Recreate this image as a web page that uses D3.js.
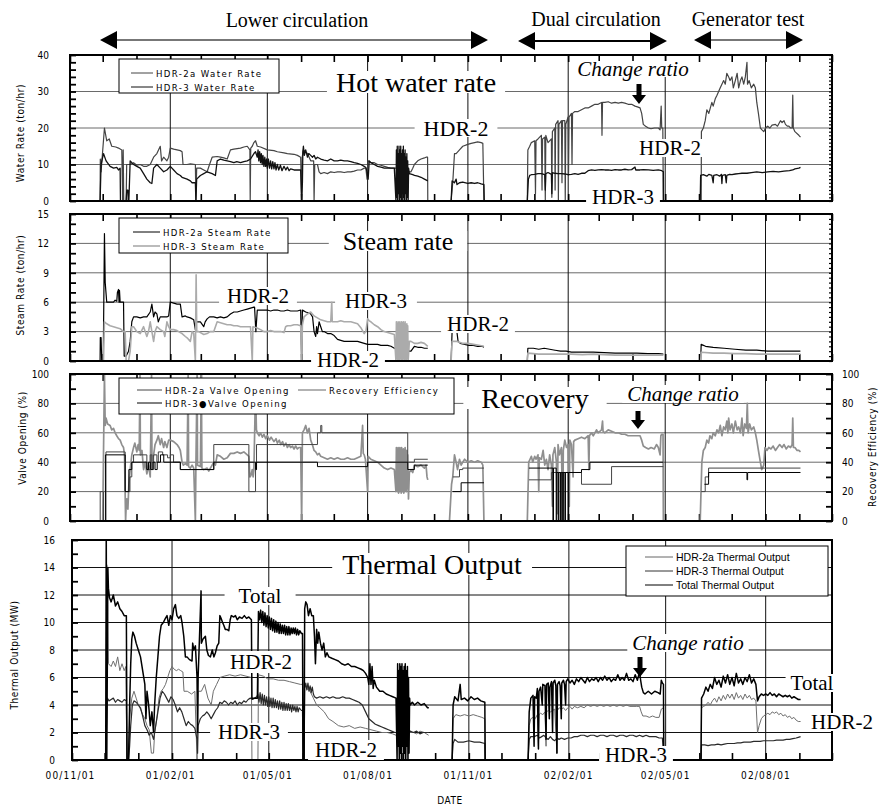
<!DOCTYPE html>
<html>
<head>
<meta charset="utf-8">
<script src="https://cdn.jsdelivr.net/npm/d3@7"></script>
<style>
  body { margin: 0; background: #fff; }
  .tick-label { font-family: "DejaVu Sans Condensed", "DejaVu Sans", sans-serif; font-stretch: condensed; font-size: 10px; fill: #000; }
  .axis-title { font-family: "DejaVu Sans Condensed", "DejaVu Sans", sans-serif; font-stretch: condensed; font-size: 10px; letter-spacing: 0.6px; fill: #000; }
  .legend-spaced { font-family: "DejaVu Sans Condensed", "DejaVu Sans", sans-serif; font-stretch: condensed; font-size: 9.5px; letter-spacing: 1.4px; fill: #000; }
  .legend-plain { font-family: "Liberation Sans", Arial, sans-serif; font-size: 10.5px; fill: #000; }
  .note { font-family: "Liberation Serif", "Times New Roman", serif; fill: #000; }
</style>
</head>
<body>
<svg id="chart" width="881" height="810"></svg>
<script>
// Time axis: days counted from 2000-11-01
const START = new Date(2000, 10, 1);
const END = new Date(2002, 9, 1);
const toDate = d => new Date(START.getTime() + d * 864e5);

// ---------- Water rate (ton/hr) ----------
const waterHdr2a = [
  [27.6,0],[27.8,11.5],[28.5,8],[31.6,20],[33.7,16.5],[36,17],[38.3,15],[42,14.8],[44.5,14.5],[47.5,14],[48.3,0],[48.8,14],[49.3,0],[51.5,0],[52,10],[55.2,10],[58.3,10.5],[61.3,9.8],[64.4,10],[67.5,9.5],[70.5,9.5],[73.6,10],[76.7,12],[79.7,13],[82.8,15],[84,11],[85.9,12],[88.9,11],[90.5,12],[92,14.5],[95.1,14.2],[98.2,14],[101.2,13.8],[102.8,13.5],[103.7,10],[107.4,10],[110.4,10.2],[115,10],[115.5,0],[116.2,9],[119.6,9],[122.7,8.5],[125.8,8],[128,10],[130.4,12],[135,12.2],[138,12],[141.1,11.8],[144.2,11.5],[147.2,14],[150.3,14.2],[156.4,14.5],[159.5,14.8],[162.6,15],[165,14],[165.3,0],[165.8,14.5],[167.2,15],[168.7,16],[170.2,16.5],[171.8,15],[174.8,14.8],[181,14],[187.1,13.8],[190.2,13.5],[196.3,13.2],[199.4,13],[205.5,12.8],[208.6,12.5],[211.6,12],[212.5,0],[213,12],[214.1,14],[217.8,13],[220.8,11],[223.5,11],[223.9,0],[224.5,10],[227,10],[228.5,8],[230,7.5],[233.1,7.8],[236.2,7.5],[239.2,8],[242.3,7.8],[245.4,8],[248.4,8],[251.5,7.8],[254.6,8],[257.6,8],[260.7,8.2],[263.8,8.5],[266.8,8.5],[269.9,9],[271.4,9],[272.5,6],[273.5,11],[276,10.5],[279.1,10.5],[282.2,10],[285.2,9.8],[288.3,9.5],[291.4,9.2],[294.4,9],[297.5,9],[305,9],[311,8],[312.8,8],[314.4,9],[315.9,10],[319,11],[322,11.5],[325.1,11.8],[326.6,12],[328,12],[328.2,0],[328.3,null],
  [349.6,0],[351.1,5],[352.7,13],[354.2,13],[357.3,14],[360.3,15],[364.9,15.5],[368,15.8],[371.1,16],[374,16.2],[377.2,16],[378.7,15.8],[379.7,0],[380,null],
  [419.5,0],[420,14],[421.7,15],[423.2,16],[426.3,16.5],[427,2],[427.5,16.5],[429.3,17],[432.4,18],[433,3],[433.5,17],[435.5,17.5],[436,0],[436.5,18],[438.5,16],[441.6,17],[442,1],[442.5,19],[444.7,20],[445,3],[445.5,21],[447.7,22],[448,0],[448.5,21],[450.8,22],[451.3,5],[451.8,22],[453.9,22],[454.3,0],[454.8,21],[456.9,23],[457.3,7],[457.8,23],[460,24],[460.5,10],[461,24],[463.1,24.5],[466.1,24.5],[469.2,25],[472.3,25.5],[475.3,25.5],[478.4,26],[481.5,26.5],[484.5,26.5],[487.6,27],[488,18],[488.5,27],[490.6,27],[493.7,27.2],[496.8,26.8],[500,27],[503,26.8],[506,27],[509,26.8],[512,26.5],[515.2,26.5],[518.3,26],[520.5,25.8],[522.9,25.5],[524.4,24],[525.9,21],[528,20.5],[530.6,20],[533,19.8],[536,20],[539.7,20],[541.3,19.5],[542.3,26],[542.8,20],[543.8,20],[544.3,0],[544.5,null],
  [579,0],[579.2,19],[581,20],[582.7,22],[584.2,25],[586,24],[588.8,27],[590,26],[591.9,28],[593.5,29],[595,30],[596.5,31],[598,32],[599.6,33],[601.1,32],[602.5,35],[604.2,34],[605.5,33],[607.2,34],[608.5,31],[610.3,33],[612,35],[613.4,31],[615,33],[616.4,34],[618,32],[619.5,34],[621,38],[621.5,32],[623,33],[625,31],[627.2,32],[628.7,31],[630,27],[631.5,24],[633.3,20],[634.8,19.5],[636.4,19],[638,20],[640,20.5],[642,20],[644,20.8],[647.1,21],[649,20.5],[651.7,22],[653.2,21.5],[655,22],[656.3,21],[658,20.5],[659.4,20.5],[661,20],[662.4,20],[663,29],[663.5,20],[665,19],[668.6,18],[670.1,17.5]
];
const waterHdr3 = [
  [27.6,0],[28.5,10],[30.7,13],[33.1,11],[36.8,9.5],[40,9],[42.9,9.2],[44.5,8.5],[46,9],[46.3,0],[51.5,0],[52.1,3],[53.1,3],[53.4,0],[54,0],[55.2,11],[56.7,10.5],[58.3,10],[61.3,9.5],[64.4,9],[67.5,7.5],[70.5,6],[73.6,5],[75.1,4.8],[76.7,9],[79.7,10],[82.8,9],[85.9,8],[88.9,8.5],[92,9.5],[95.1,8.5],[98.2,7.5],[101.2,7],[102.8,6.5],[107.4,6],[110.4,5.5],[112,5],[115,5],[115.5,0],[116.2,6],[119.6,7],[122.7,7.5],[125.8,8],[130.4,7.5],[133.4,7],[135,11],[138,11.5],[141.1,11.2],[144.2,11],[147.2,10.8],[150.3,10.5],[153,10.8],[156.4,10.5],[159.5,10.8],[162.6,11],[165.6,11.5],[168.7,13],[170.2,13.5],
  [171.8,12],[172.5,14],[173.2,11],[174,13.5],[174.8,10.5],[175.5,13],[176.3,10],[177,12.5],[177.9,9.5],[178.7,12],[179.5,9.5],[180.3,11.5],[181,9],[182,11.5],[183,9],[184,11],[185,8.8],[186,10.8],[187.1,8.8],[188,10.5],[189,8.5],[190.2,10],[191.5,8.5],[193,9.8],[194.5,8.3],[196.3,9.5],[198,8.5],[199.4,9.3],[201,8.3],[202.4,8.8],[205.5,8.5],[208.6,8.5],[211.6,8.5],[212.5,0],[213.2,5],[213.6,13.5],[214.1,15],[215,12.5],[216.2,14],[217.8,12],[219,13],[220.8,12.5],[222.5,12],[223.9,12.5],[225.4,11.5],[227,12],[230,11.5],[233.1,11.2],[236.2,11],[239.2,11.5],[242.3,11],[245.4,11],[248.4,11.2],[251.5,11],[254.6,11],[257.6,10.8],[260.7,10.5],[263.8,10.3],[266.8,10],[269.9,9.5],[271.4,9.2],[272.5,8],[273.5,6],[274.5,11],[276,10.5],[279.1,10],[282.2,9.5],[285.2,9.3],[288.3,9],[291.4,9],[294.4,9],[297.5,9],
  [299,0],[299.4,14],[299.8,1],[300.2,15],[300.6,0],[301,13],[301.4,2],[301.8,15],[302.2,0],[302.6,14],[303,1],[303.4,15],[303.8,0],[304.2,13],[304.6,2],[305,14],[305.4,0],[305.8,15],[306.2,1],[306.6,13],[307,0],[307.4,14],[307.8,2],[308.2,12],[308.6,0],[309,13],[309.4,1],[309.8,11],[310.2,0],[310.6,9],[311.3,7.5],[314.4,7.2],[316,7],[319,6.8],[322,6.5],[325.1,6],[328.2,5.5],[328.3,null],
  [349.6,0],[350.5,5.5],[352.7,5],[354.2,6],[355,4.5],[357.3,5],[360.3,5.2],[364.9,4.8],[368,5],[371.1,4.8],[374,5],[377.2,4.7],[379.7,4.5],[380,0],[380.3,null],
  [419.5,0],[420.5,6],[421.7,7],[423.2,7.2],[426.3,7.3],[429.3,7.5],[432.4,7.5],[435.5,7.2],[436,3],[436.5,7.5],[438.5,7.8],[441.6,7.3],[442,2],[442.5,7.8],[444.7,7.6],[447.7,7.5],[450.8,7.5],[453.9,7.4],[456.9,7.2],[460,7.3],[463.1,7.5],[466.1,7.3],[469.2,7.6],[472.3,7.6],[475.3,8.3],[478.4,8.5],[481.5,8.4],[484.5,8.5],[487.6,8.6],[490.6,8.5],[493.7,8.5],[496.8,8.4],[500,8.6],[503,8.5],[506,8.5],[509,8.7],[512,8.5],[515.2,8.6],[518.3,9.3],[519,8.5],[522.9,8.5],[525.9,8.6],[530.6,8.5],[535,8.4],[539.7,8.5],[542.8,8.3],[544.3,8],[544.4,0],[544.5,null],
  [578.1,0],[578.5,7],[581,7.2],[584.2,6.8],[586,7.3],[588.8,7],[590,5],[590.5,7],[593.5,7.2],[596,6.8],[597.5,7.3],[598,4.8],[598.5,7],[601.1,7.2],[602,5],[602.5,7],[605,7.3],[607.2,7.2],[610.3,7.4],[613.4,7.5],[616.4,7.6],[621,7.6],[625,7.8],[630,8],[635,7.8],[640,8],[645,8.1],[650,8],[655,8.2],[660,8.3],[663,8.5],[665,8.8],[668.6,9],[670.1,9.2]
];

// ---------- Steam rate (ton/hr) ----------
const steamHdr2a = [
  [27.6,0],[27.8,2.4],[28.5,2.4],[29.1,0],[30.5,0],[31.6,13],[32.3,8],[33.7,6],[36.8,6],[39.9,6],[41.4,6.2],[42.9,6.1],[43.5,7],[44.5,7.3],[45,6],[45.4,7.2],[46,6],[47.5,6],[49.1,6],[49.7,0.5],[51.5,0.5],[53.7,1],[55.2,2],[56.7,4],[58.3,4.5],[61.3,4.5],[64.4,4.4],[67.5,4.5],[70.5,4.5],[73.6,5],[75.1,5.8],[76.7,4.5],[78,5],[79.7,4.8],[81,4],[82.8,4.5],[85.9,4.5],[88.9,4.5],[90.5,4.6],[92,6],[95.1,5.9],[98.2,5.8],[101.2,5.8],[102.8,4.5],[105.8,4.6],[107.4,4.5],[110.4,4.4],[113.5,4.2],[115,3.2],[115.5,4],[119.6,4],[122.7,3.5],[124,4],[125.8,4.3],[128,4.5],[131.9,4.5],[135,4.4],[138,4.5],[141.1,4.4],[144.2,4.5],[147.2,4.8],[150.3,5],[153.4,5],[156.4,5.1],[159.5,5.2],[162.6,5.3],[165.6,5.4],[168.7,5.5],[169.3,5.5],[170.5,3],[171.8,5.2],[175,5.2],[181,5.2],[184,5.1],[187.1,5.2],[190.2,5.2],[193.3,5.1],[196.3,5.1],[199.4,5.2],[202.4,5.1],[205.5,5.1],[208.6,5.1],[211.6,5.2],[212.5,0],[213.2,5.2],[216.2,5],[219.3,4.9],[220.8,4.8],[222.5,4.5],[223.9,3],[225.4,2.5],[226.2,3.5],[227,2.8],[228.5,4],[230,3.5],[231.5,3],[233.1,3],[236.2,2.8],[239.2,2.8],[242.3,2.6],[245.4,2.2],[248.4,2.1],[251.5,2],[254.6,2],[257.6,2],[260.7,2],[263.8,2],[266.8,1.9],[269.9,1.8],[273,1.7],[276,1.7],[279.1,1.7],[282.2,1.7],[285.2,1.6],[288.3,1.6],[291.4,1.6],[294.4,1.5],[297.5,1.3],[299,1.3],[311.3,1],[312.8,1],[315.9,1.5],[319,1.4],[322,1.4],[325.1,1.3],[328.2,1.3],[328.3,null],
  [349.6,0],[350.5,3],[353,3],[355,2.9],[356,2],[358,1.8],[362,1.7],[366,1.6],[370,1.6],[374,1.5],[378,1.5],[379.7,1.4],[380,null],
  [419.5,0],[420,1.3],[425,1.3],[430,1.2],[435,1.3],[440,1.2],[445,1.1],[450,1],[455,1],[460,0.9],[470,0.9],[480,0.9],[490,0.85],[500,0.8],[510,0.8],[520,0.8],[530,0.75],[540,0.75],[544.3,0.7],[544.5,null],
  [578.5,0],[579,1.7],[583,1.5],[590,1.4],[600,1.3],[610,1.2],[620,1.1],[630,1.1],[640,1],[650,1],[660,1],[670,1]
];
const steamHdr3 = [
  [28.5,0],[30.7,0],[31.6,4],[33.7,3.8],[36.8,3.6],[39.9,3.5],[42.9,3.4],[46,3.3],[49,3],[50.6,3],[51.5,0],[53.7,0],[55.2,1],[56.7,3.5],[58.3,3.5],[61.3,3],[64.4,2.8],[67.5,3.5],[70.5,2.5],[72,3],[73.6,4],[75.1,3],[76.7,2],[78,3],[79.7,3.5],[82.8,3.2],[85.9,3],[87,2.5],[88.9,4],[90.5,3.5],[92,3.2],[95.1,3.2],[98.2,3.1],[101.2,2.9],[102.8,2.8],[105.8,2.5],[108,2.3],[110.4,2],[112,3],[113.5,2.8],[115,0],[115.7,8.8],[116.3,3],[118.1,3],[122.7,2.7],[125.8,2.8],[128.5,3],[131.9,3],[135,4],[138,3.9],[141.1,3.8],[144.2,3.7],[147.2,3.7],[150.3,3.6],[153.4,3.6],[156.4,3.5],[159.5,3.5],[162.6,3.5],[165.6,3.5],[167.2,0],[167.8,3.5],[171.1,3.4],[174.8,3.2],[177.9,3],[181,3],[184,3.1],[187.1,3],[190.2,3],[193.3,3],[196.3,2.9],[197.8,3.5],[199.4,3.6],[202.4,3.6],[205.5,3.7],[208.6,3.7],[211.6,3.6],[212.5,0],[213.2,3.7],[214.7,4.5],[217.8,4.8],[220.8,5],[223.9,4.6],[225.4,4.5],[228.5,4.3],[230,4.2],[233.1,4.1],[236.2,4],[239.2,4],[240.1,6],[240.6,4],[242.3,4],[245.4,4],[248.4,4.1],[251.5,4],[254.6,4],[257.6,4],[260.7,3.9],[263.8,3.8],[266.8,3.4],[269.9,2.8],[271.4,3],[273,4.3],[274.5,4.1],[276,4],[279.1,3.7],[282.2,3.5],[285.2,3.2],[288.3,3],[291.4,2.9],[294.4,2.8],[297.5,2.7],
  [299,0],[299.4,4],[299.8,0.3],[300.2,3.8],[300.6,0],[301,4],[301.4,0.2],[301.8,3.9],[302.2,0],[302.6,4],[303,0.3],[303.4,3.8],[303.8,0],[304.2,4],[304.6,0.2],[305,3.9],[305.4,0],[305.8,4],[306.2,0.3],[306.6,3.8],[307,0],[307.4,4],[307.8,0.2],[308.2,3.7],[308.6,0],[309,3.8],[309.4,0.3],[309.8,3.6],[310.2,0],[311.3,2],[312.8,2],[315.9,1.8],[319,1.8],[322,1.9],[325.1,1.8],[328.2,1.5],[328.3,null],
  [349.6,0],[350.5,2],[355,2],[360,1.8],[365,1.8],[370,1.7],[375,1.6],[379.7,1.5],[380,null],
  [419.5,0],[420,0.8],[430,0.7],[440,0.7],[450,0.7],[460,0.7],[470,0.65],[480,0.7],[490,0.65],[500,0.6],[510,0.6],[520,0.6],[530,0.6],[540,0.6],[544.3,0.6],[544.5,null],
  [578.5,0],[579,0.9],[590,0.8],[600,0.8],[610,0.75],[620,0.75],[630,0.7],[640,0.7],[650,0.7],[660,0.7],[670,0.7]
];

// ---------- Valve opening (%) and recovery efficiency (%) ----------
const valveHdr2a = [
  [27.6,0],[27.7,20],[30.7,0],[33,47],[50,47],[50.6,20],[55,30],[56.7,40],[58.3,45],[70.5,35],[73.6,45],[75.1,35],[76.7,45],[79.7,40],[81,47],[85,45],[89.5,43],[92,45],[95,40],[101.2,35],[131.9,52],[164.1,20],[170.2,35],[171.1,52],[227,60],[230,65],[231,60],[309.8,40],[315.9,42],[328.2,42],[328.3,null],
  [351,30],[357.3,35],[360.3,36],[379.7,36],[380,null],
  [421,28],[441.6,33],[469.2,25],[496.8,37],[544.3,37],[544.5,null],
  [579,20],[582.7,30],[585.8,36],[670.1,36]
];
const valveHdr3 = [
  [27.6,0],[32.5,45],[50,45],[50.6,20],[54,35],[56.7,40],[70.5,35],[72,40],[74,35],[76,40],[78,35],[80,40],[83,45],[86,40],[101.2,35],[131.9,40],[169.3,40],[170.2,35],[171.1,40],[227,37],[273,40],[309.8,35],[315.9,38],[328.2,38],[328.3,null],
  [351,20],[358.8,26],[379.7,26],[380,null],
  [421,36],[443,0],[443.5,36],[446,0],[446.5,33],[448,0],[448.5,33],[450,0],[450.6,33],[452,0],[452.5,33],[454,0],[454.5,33],[457,0],[457.5,33],[469.2,35],[476.9,40],[544.3,40],[544.5,null],
  [582,25],[585.8,33],[621,28],[621.6,33],[670.1,33]
];
const recoveryEff = [
  [28.5,0],[30,0],[31.6,100],[32.3,65],[33.1,70],[34.5,66],[36.8,65],[38.3,62],[39.9,63],[41.4,60],[42.9,58],[44.5,56],[46,55],[47.5,52],[49.1,50],[50,45],[51,0],[51.5,10],[52.1,15],[53.1,8],[54,25],[55.2,35],[56.7,45],[58.3,50],[59.5,53],[61.3,47],[62.5,52],[63.5,48],[64.2,100],[64.6,45],[66,48],[67.5,35],[69,40],[70.5,32],[72,38],[73.6,30],[74.8,100],[75.2,40],[76.7,45],[78,52],[79.7,55],[81,58],[82.8,52],[84,56],[85.9,50],[87,54],[88.9,50],[90.5,55],[92,55],[95.1,54],[98.2,52],[100,50],[101.2,48],[102.8,40],[104,38],[105.8,39],[107.4,38],[108.4,100],[108.8,37],[110.4,36],[112,38],[113.5,36],[115,0],[115.5,38],[116.6,100],[117,38],[119.6,37],[120.5,100],[121,36],[122.7,35],[125.8,36],[127.3,34],[130.4,38],[131.9,40],[133.4,38],[135,45],[138,44],[141.1,42],[144.2,43],[147.2,46],[150.3,46],[153.4,47],[156.4,46],[159.5,47],[162.6,45],[164.1,44],[165,30],[166,31],[167.2,35],[168,30],[168.7,35],[170.2,90],[171,62],[171.8,60],[173.5,58],[174.8,60],[176.5,57],[177.9,59],[179.5,56],[181,58],[183,55],[184.5,57],[187.1,54],[189,56],[190.2,53],[192,55],[193.3,52],[195,54],[196.3,51],[198,53],[199.4,50],[201,52],[202.4,50],[204,51],[205.5,49],[207,51],[208.6,49],[210,50],[211.6,50],[212.5,0],[213.2,60],[214.7,62],[216.2,65],[217.8,60],[219.3,63],[220.8,55],[222.3,52],[223.9,48],[225.4,47],[227,45],[228.5,46],[230,44],[233.1,43],[236.2,42],[239.2,43],[242.3,42],[245.4,43],[248.4,42],[251.5,42],[254.6,43],[257.6,42],[260.7,42],[263.8,43],[266.8,44],[268.4,65],[269,46],[269.9,45],[271,42],[273,20],[273.5,44],[276,42],[279.1,41],[282.2,40],[285.2,38],[288.3,36],[291.4,35],[294.4,36],[297.5,35],
  [299,20],[299.4,50],[299.8,22],[300.2,48],[300.6,20],[301,50],[301.4,19],[301.8,47],[302.2,20],[302.6,50],[303,21],[303.4,48],[303.8,19],[304.2,50],[304.6,20],[305,47],[305.4,20],[305.8,49],[306.2,19],[306.6,48],[307,20],[307.4,50],[307.8,21],[308.2,47],[308.6,20],[309,48],[309.4,22],[309.8,45],[310.5,15],[311.3,33],[312.8,35],[314.4,33],[315.9,38],[319,37],[322,38],[325.1,36],[326.6,38],[327.5,30],[328.2,28],[328.3,null],
  [348.1,0],[350,25],[351.1,30],[352.7,45],[354.2,40],[355.5,35],[357.3,42],[358.8,38],[360.3,40],[362,42],[364.9,40],[368,41],[371.1,40],[374,41],[377.2,40],[378.7,38],[379.7,0],[380,null],
  [419.5,0],[420.8,40],[422,42],[423.2,44],[424.5,40],[426.3,44],[427.5,42],[429.3,45],[430,20],[430.5,43],[432.4,42],[434,48],[435.5,38],[437,42],[438.5,35],[440,45],[441.6,38],[442.5,10],[443,45],[444.7,50],[446.2,40],[447,5],[447.7,52],[449,45],[450.8,50],[452,0],[452.5,48],[453.9,55],[455.5,50],[456.9,52],[458,10],[458.5,55],[460,52],[461.5,30],[462,54],[463.1,55],[466.1,56],[469.2,57],[472.3,56],[475.3,58],[476,35],[476.5,58],[478.4,60],[480,58],[481.5,60],[483,62],[484.5,60],[487.6,62],[488.5,68],[489,61],[490.6,60],[493.7,62],[496.8,61],[500,60],[503,60],[506,59],[509,59],[512,58],[515.2,58],[518.3,58],[520.5,58],[522.9,58],[524.4,55],[525.9,51],[528,50],[530.6,49],[533,50],[536,49],[538,52],[539.7,50],[541.3,45],[542,58],[542.8,59],[544,59],[544.3,0],[544.5,null],
  [578.1,0],[579.6,40],[581,48],[582.7,50],[584.2,55],[585.8,53],[587,58],[588.8,56],[590,60],[591.9,58],[593.5,62],[595,60],[596.5,65],[598,58],[599.6,64],[601.1,62],[602.5,68],[603.5,60],[604.2,70],[605.5,62],[607.2,66],[608.5,60],[610.3,68],[612,62],[613.4,64],[615,60],[616.4,70],[617.5,58],[619,66],[620.5,63],[621.3,80],[622,60],[623.5,66],[625,62],[627.2,64],[628.7,60],[630,55],[631.5,48],[633.3,40],[634.5,35],[636.4,38],[637.5,50],[639.4,48],[641,50],[643,49],[645,51],[647.1,48],[649,50],[651,52],[653.2,50],[655,52],[657,49],[659,51],[661,50],[662.4,52],[663,70],[663.6,50],[665,50],[667,48],[668.6,48],[670.1,47]
];

// ---------- Thermal output (MW) ----------
const thermalHdr2a = [
  [31,0],[32,14.2],[32.5,12.5],[33.5,7],[36,6.8],[38,7.2],[40,6.8],[42,7.5],[44,6.5],[46,7],[48,6.5],[49.5,6.8],[50.5,0],[52,0],[53,3],[55,4.5],[57,5],[59,4.5],[61,4],[63,3.7],[65,3.3],[67,3],[69,2.5],[71,2.2],[73,0.5],[75,0.5],[76,2],[78,3],[80,4.5],[82,5],[84,5.2],[86,5.5],[88,6],[90,6.5],[92,6.8],[94,6.6],[96,6.5],[98,6.6],[100,6.5],[102,6.4],[103,5],[106,5],[110,4.8],[113,5],[115,0],[116,5],[119,5],[122,5.5],[125,4.5],[128,4],[130,5],[133,5.5],[136,6],[140,6.1],[145,6.2],[150,6.1],[155,6.2],[160,6.1],[165,6],[165.5,0],[171,0],[171.5,6.2],[176,6.1],[180,5.9],[185,5.9],[190,5.8],[195,5.8],[200,5.7],[205,5.6],[210,5.5],[212,5.5],[212.5,0],[213.5,0],[214,5.5],[216,5.2],[219,5],[222,4.5],[225,4],[228,3.8],[232,3.5],[236,3],[240,2.8],[245,2.5],[250,2.4],[255,2.5],[260,2.3],[265,2.4],[270,2.3],[275,2.2],[280,2.1],[285,2],[290,2],[295,1.9],[298,1.8],[311,2],[314,2],[317,1.9],[320,2.1],[324,2],[328,1.8],[328.3,null],
  [349.6,0],[350.5,3],[353,3.3],[357,3.2],[361,3.3],[365,3.2],[369,3.3],[373,3.2],[377,3.1],[379.7,3],[380,0],[380.3,null],
  [419.5,0],[420.5,2.5],[422,3],[424,3.1],[426,3],[428,3.3],[429,1],[429.5,3.3],[431,3.4],[433,3.3],[435,3.5],[436,1],[436.5,3.5],[438,3.6],[440,3.5],[442,3.6],[444,3.7],[446,0.5],[446.5,3.6],[448,3.8],[450,3.7],[452,3.8],[454,3.6],[456,3.8],[458,3.9],[460,3.7],[462,3.9],[465,3.8],[468,3.9],[471,3.8],[474,4],[477,3.9],[480,4],[483,3.9],[486,4],[489,3.9],[492,4],[495,3.9],[498,4],[501,3.9],[504,4],[507,3.9],[510,4],[513,3.9],[516,3.9],[519,3.9],[522,3.9],[523.5,3.5],[525,3.2],[528,3.2],[531,3.1],[534,3.2],[537,3.1],[540,3.1],[542,3.7],[544,3.8],[544.3,0],[544.5,null],
  [578.5,0],[579,3.8],[581,3.9],[583,4],[585,4.2],[587,4],[589,4.3],[591,4.5],[593,4.2],[595,4.6],[597,4.3],[599,4.7],[601,4.4],[603,4.8],[605,4.5],[607,4.8],[609,4.4],[611,4.9],[613,4.5],[615,4.7],[617,4.4],[619,4.8],[621,4.5],[623,4.7],[625,4.4],[627,4.5],[629,4.3],[630.5,2],[632,2.5],[634,3],[636,3.2],[638,3.3],[640,3.4],[642,3.3],[644,3.5],[646,3.4],[648,3.5],[650,3.3],[652,3.4],[654,3.2],[656,3.3],[658,3.1],[660,3.2],[662,3],[664,3.1],[666,2.9],[668,2.8],[670.1,2.8]
];
const thermalHdr3 = [
  [31,0],[32.5,4.5],[34,4.3],[36,4.4],[38,4.5],[40,4.2],[42,4.4],[44,4.3],[46,4.2],[48,4.4],[50,4.3],[50.6,0],[52,0],[53,1],[54,2.5],[55.5,4],[57,4.3],[59,4.2],[61,4],[63,3.8],[65,3.2],[67,2.5],[69,2.2],[71,1.8],[73,2],[75,1.5],[77,2.5],[79,3.5],[81,4.5],[83,5],[85,4.8],[87,4.5],[89,4.2],[91,4.6],[93,4.4],[95,4],[97,3.5],[99,3.8],[101,3.5],[103,3],[105,2.5],[107,2.8],[109,2.6],[111,2.5],[113,2.3],[115,1.5],[115.5,0.5],[116,2.5],[118,3],[120,3.2],[122,3.3],[124,3.5],[126,3.3],[128,3],[130,3.3],[132,3.6],[134,3.8],[136,4.2],[138,4.1],[140,4.3],[142,4.2],[144,4],[146,4.2],[148,4.1],[150,4.3],[152,4],[154,4.2],[156,4.1],[158,4.3],[160,4.2],[162,4.4],[164,4.5],[166,4.4],[168,4.5],[170,4.6],
  [171,4.8],[172,4.2],[173,4.9],[174,4.1],[175,4.8],[176,4],[177,4.7],[178,4],[179,4.6],[180,3.9],[181,4.6],[182,3.9],[183,4.5],[184,3.8],[185,4.5],[186,3.8],[187,4.4],[188,3.8],[189,4.3],[190,3.7],[191,4.3],[192,3.7],[193,4.2],[194,3.6],[195,4.2],[196,3.6],[197,4.1],[198,3.6],[199,4.1],[200,3.6],[201,4],[202,3.5],[203,4],[204,3.6],[205,3.9],[206,3.5],[207,3.9],[208,3.5],[209,3.8],[211,3.6],[212,3.6],[212.5,0],[213.5,0],[214,5.2],[215,5.6],[216,5.1],[217,5.6],[218,5],[219,5.4],[220,4.9],[221,5.3],[222,4.8],[223,4.6],[225,4.5],[228,4.6],[231,4.5],[234,4.6],[237,4.5],[240,4.6],[243,4.5],[246,4.5],[249,4.6],[252,4.5],[255,4.5],[258,4.4],[261,4.3],[264,4.2],[267,4],[270,3.5],[273,3],[276,2.8],[279,2.6],[282,2.5],[285,2.4],[288,2.3],[291,2.2],[294,2.1],[297,2],[299,2],[311,2.1],[314,2],[317,2.1],[320,1.9],[323,2],[326,2],[328.2,2],[328.3,null],
  [349.6,0],[350.5,1.2],[352,1.5],[355,1.3],[360,1.3],[365,1.4],[370,1.3],[375,1.3],[379.7,1.2],[380,0],[380.3,null],
  [419.5,0],[420.5,1.5],[422,1.7],[425,1.7],[428,1.8],[430,1.6],[432,1.7],[434,1.8],[436,1.6],[438,1.5],[440,1.7],[442,1.5],[444,1.4],[446,1.6],[448,1.5],[450,1.6],[453,1.5],[456,1.6],[459,1.6],[462,1.7],[465,1.7],[468,1.8],[471,1.8],[474,1.7],[477,1.8],[480,1.8],[483,1.7],[486,1.8],[489,1.8],[492,1.7],[495,1.8],[498,1.8],[501,1.7],[504,1.8],[507,1.8],[510,1.7],[513,1.8],[516,1.8],[519,1.7],[522,1.8],[525,1.7],[528,1.8],[531,1.7],[534,1.7],[537,1.7],[540,1.6],[543,1.6],[544.3,0],[544.5,null],
  [578.5,0],[579,1.1],[582,1.1],[585,1.05],[588,1.1],[591,1.1],[594,1.15],[597,1.1],[600,1.15],[603,1.2],[606,1.2],[609,1.2],[612,1.25],[615,1.25],[618,1.3],[621,1.3],[624,1.3],[627,1.35],[630,1.35],[633,1.35],[636,1.4],[639,1.4],[642,1.4],[645,1.4],[648,1.45],[651,1.45],[654,1.45],[657,1.5],[660,1.5],[663,1.55],[666,1.6],[668,1.65],[670.1,1.7]
];
const thermalTotal = [
  [31,0],[31.5,17],[32,0],[33,14],[33.5,12.5],[34.5,11.8],[36,11.5],[38,12],[40,11.2],[42,11.5],[44,11],[46,10.8],[48,10.5],[50,10.5],[50.6,0],[52,0],[53,4],[54,7],[55,8.8],[56,9.3],[57.5,9],[59,8.5],[61,8],[63,7.5],[65,6.5],[67,5.5],[68,3],[69,5],[70.5,4],[72,2.5],[73.5,3.5],[75,2],[76,4],[77.5,6],[79,7.5],[80.5,9],[82,9.8],[84,10],[85.9,10.3],[87.4,10.5],[89,9.8],[90.5,10.5],[92,10.2],[93.5,11],[95.1,11.3],[96.5,10.5],[98.2,10.3],[100,10.5],[101.2,10],[102.8,9],[104.3,7.5],[105.8,7.5],[108,7.3],[110.4,7.2],[111,8.5],[112,8],[113.5,8.3],[115,6],[115.5,2],[116,6],[118.7,12.3],[119,8.5],[120.5,8.8],[122.7,9],[124,8],[125.5,7.6],[127.3,7.5],[129,8],[130.5,7.5],[131.9,7.8],[133.5,8.3],[135,8.5],[136,10.5],[137.1,10.3],[138.5,10],[139.6,9.8],[141,9.5],[142.5,9.5],[144.2,9.4],[145.5,10.2],[146.5,10.5],[148.8,10.4],[150.3,10.5],[152,10.2],[154,10.4],[156.4,10.3],[158.5,10.5],[160.5,10.3],[162.6,10.4],[165,10.2],[165.5,4.5],[170.5,4.5],[171.5,10.8],
  [172.5,10.2],[173.5,10.9],[174.5,10],[175.5,10.8],[176.5,9.8],[177.5,10.7],[178.5,9.7],[179.5,10.5],[180.5,9.6],[181.5,10.4],[182.5,9.5],[183.5,10.3],[184.5,9.4],[185.5,10.2],[186.5,9.3],[187.5,10.1],[188.5,9.3],[189.5,10],[190.5,9.2],[191.5,9.9],[192.5,9.2],[193.5,9.8],[194.5,9.2],[195.5,9.8],[196.5,9.1],[197.5,9.7],[198.5,9.1],[199.5,9.7],[200.5,9.1],[201.5,9.6],[202.5,9.2],[203.5,9.6],[204.5,9.2],[205.5,9.6],[206.5,9.1],[207.5,9.5],[208.5,9.1],[209.5,9.4],[211,9.2],[212,9.2],[212.5,0],[213.5,0],[214,11],[215,11.5],[216.2,11.3],[217.5,10.5],[219,11],[220.5,10.5],[222,10.5],[223,9],[223.9,7],[225,9.5],[226,8.5],[227,9.3],[228.5,8.5],[230,8],[231.5,8.5],[233,7.5],[234.5,7.8],[236.2,7.5],[239,7.4],[242,7.3],[245,7.2],[248,7],[251,6.9],[254,7],[257,6.8],[260,6.8],[263,6.7],[266,6.6],[268,6.5],[270,6.3],[272,6],[273,5.5],[274,7],[275,5.5],[276,6.8],[277,5.2],[278,5.8],[280,5.3],[283,5],[286,5],[289,4.8],[292,4.7],[295,4.6],[298,4.5],
  [299,0],[299.5,7],[300,1],[300.5,6.5],[301,0],[301.5,7],[302,0.5],[302.5,6.8],[303,0],[303.5,7],[304,1],[304.5,6.5],[305,0],[305.5,6.8],[306,0.5],[306.5,7],[307,0],[307.5,6.5],[308,1],[308.5,6.8],[309,0],[309.5,6],[310,0.5],[310.5,4.5],[311,4],[313,4.2],[315,4],[318,4.2],[321,4],[324,4.1],[327,3.8],[328.2,3.8],[328.3,null],
  [349.6,0],[350.5,4],[352,4.6],[355,4.3],[357,5.5],[358,4.4],[361,4.5],[364,4.3],[367,4.6],[370,4.4],[373,4.5],[376,4.3],[379.7,4.2],[380,0],[380.3,null],
  [419.5,0],[420.5,3.5],[422,4.5],[424,4.7],[425,1],[425.5,4.6],[427,4.5],[428,5.2],[429,0.8],[429.5,5],[431,5.3],[432.5,4],[433,5.5],[435,5.4],[436,1.5],[436.5,5.5],[438,5.6],[439,3],[439.5,5.3],[441,5.7],[442,2],[442.5,5.6],[444,5.8],[445,5.4],[446,0.5],[446.5,5.5],[448,5.7],[449,5.4],[450,3],[450.5,5.6],[452,5.8],[453,5.5],[454,4],[454.5,5.7],[456,5.9],[458,5.6],[460,5.8],[462,5.5],[464,5.9],[466,5.7],[468,6],[470,5.8],[472,5.6],[474,6],[476,5.7],[478,5.9],[480,5.8],[482,6],[484,5.7],[486,6],[488,5.8],[490,6.1],[492,5.8],[494,6],[496,5.7],[498,5.9],[500,5.8],[502,6.2],[504,5.8],[506,6],[508,5.8],[510,6.3],[512,5.8],[514,5.9],[516,5.7],[518,6.2],[520,5.8],[522,6.4],[523,5.8],[524,5.3],[525.5,4.9],[527,4.8],[530,5],[533,4.8],[536,5],[539,4.9],[541,4.8],[542,5.8],[543,5.6],[544,5.5],[544.3,0],[544.5,null],
  [578.5,0],[579,4.5],[581,4.8],[583,5.3],[585,5],[587,5.5],[589,5.2],[591,6],[593,5.5],[595,5.8],[597,5.3],[599,6.1],[601,5.6],[603,6.2],[605,5.5],[607,6],[609,5.4],[611,6.3],[613,5.6],[615,5.9],[617,5.5],[619,6],[621,5.7],[623,6.2],[625,5.6],[627,5.9],[629,5.5],[630.5,4.3],[632,4.6],[634,4.8],[636,4.7],[638,4.8],[640,4.7],[642,4.9],[644,4.7],[646,4.8],[648,4.6],[650,4.8],[652,4.7],[654,4.6],[656,4.7],[658,4.6],[660,4.7],[662,4.5],[664,4.6],[666,4.5],[668,4.4],[670.1,4.4]
];

// Axis tick values
const waterTicks = [0, 10, 20, 30, 40];
const steamTicks = [0, 3, 6, 9, 12, 15];
const valveTicks = [0, 20, 40, 60, 80, 100];
const thermalTicks = [0, 2, 4, 6, 8, 10, 12, 14, 16];

const svg = d3.select('#chart');

function drawPanel(cfg) {
  const g = svg.append('g');
  const x = d3.scaleTime().domain([START, END]).range([cfg.left, cfg.right]);
  const y = d3.scaleLinear().domain([0, cfg.ticks[cfg.ticks.length - 1]]).range([cfg.bottom, cfg.top]);

  // horizontal grid
  g.append('g').selectAll('line').data(cfg.ticks.slice(1, -1)).join('line')
    .attr('x1', cfg.left).attr('x2', cfg.right)
    .attr('y1', d => y(d)).attr('y2', d => y(d))
    .attr('stroke', cfg.hGrid).attr('stroke-width', 1);

  // vertical grid every three months
  const quarters = d3.timeMonth.range(d3.timeMonth.offset(START, 3), END, 3);
  g.append('g').selectAll('line').data(quarters).join('line')
    .attr('x1', d => x(d)).attr('x2', d => x(d))
    .attr('y1', cfg.top).attr('y2', cfg.bottom)
    .attr('stroke', cfg.vGrid).attr('stroke-width', 1);

  // monthly ticks inside the frame
  const monthAxisB = d3.axisBottom(x).ticks(d3.timeMonth.every(1)).tickSize(-7).tickFormat('');
  g.append('g').attr('transform', `translate(0,${cfg.bottom})`).call(monthAxisB)
    .call(a => a.select('.domain').remove())
    .call(a => a.selectAll('line').attr('stroke', '#000').attr('stroke-width', 1.6));
  if (cfg.topTicks) {
    const monthAxisT = d3.axisTop(x).ticks(d3.timeMonth.every(1)).tickSize(-7).tickFormat('');
    g.append('g').attr('transform', `translate(0,${cfg.top})`).call(monthAxisT)
      .call(a => a.select('.domain').remove())
      .call(a => a.selectAll('line').attr('stroke', '#000').attr('stroke-width', 1.6));
  }

  // left minor ticks
  const yMax = cfg.ticks[cfg.ticks.length - 1];
  const minorL = d3.range(0, yMax + 1e-9, cfg.minor);
  g.append('g').attr('transform', `translate(${cfg.left},0)`)
    .call(d3.axisLeft(y).tickValues(minorL).tickSize(-6).tickFormat(''))
    .call(a => a.select('.domain').remove())
    .call(a => a.selectAll('line').attr('stroke', '#000').attr('stroke-width', 1.8));

  // right minor ticks
  if (cfg.minorR) {
    const minorR = d3.range(0, yMax + 1e-9, cfg.minorR);
    g.append('g').attr('transform', `translate(${cfg.right},0)`)
      .call(d3.axisRight(y).tickValues(minorR).tickSize(-cfg.minorRLen).tickFormat(''))
      .call(a => a.select('.domain').remove())
      .call(a => a.selectAll('line').attr('stroke', '#000').attr('stroke-width', 1.2));
  }

  // left tick labels
  g.append('g').attr('transform', `translate(${cfg.left},0)`)
    .call(d3.axisLeft(y).tickValues(cfg.ticks).tickSize(0).tickPadding(cfg.left - cfg.labelX).tickFormat(d3.format('d')))
    .call(a => a.select('.domain').remove())
    .call(a => a.selectAll('text').attr('class', 'tick-label').attr('font-family', null).attr('font-size', null));

  // data
  const clipId = 'clip-' + cfg.name;
  svg.append('clipPath').attr('id', clipId).append('rect')
    .attr('x', cfg.left).attr('y', cfg.top).attr('width', cfg.right - cfg.left).attr('height', cfg.bottom - cfg.top);
  const dataG = g.append('g').attr('clip-path', `url(#${clipId})`);
  cfg.series.forEach(s => {
    const line = d3.line()
      .defined(d => d[1] != null)
      .x(d => x(toDate(d[0])))
      .y(d => y(d[1]))
      .curve(s.step ? d3.curveStepAfter : d3.curveLinear);
    dataG.append('path').datum(s.data).attr('d', line)
      .attr('fill', 'none').attr('stroke', s.color).attr('stroke-width', s.width)
      .attr('stroke-linejoin', 'round');
  });

  // frame
  g.append('rect').attr('x', cfg.left).attr('y', cfg.top)
    .attr('width', cfg.right - cfg.left).attr('height', cfg.bottom - cfg.top)
    .attr('fill', 'none').attr('stroke', '#000').attr('stroke-width', 2);

  // y-axis title
  g.append('text').attr('class', 'axis-title')
    .attr('transform', `translate(${cfg.titleX},${cfg.titleY}) rotate(-90)`)
    .attr('text-anchor', 'middle').attr('dominant-baseline', 'central')
    .text(cfg.title);

  return { x, y, g };
}

const water = drawPanel({
  name: 'water', top: 55, bottom: 201, left: 70, right: 832, ticks: waterTicks,
  minor: 2, minorR: 1, minorRLen: 3, labelX: 49, hGrid: '#6a6a6a', vGrid: '#111', topTicks: true,
  title: 'Water Rate (ton/hr)', titleX: 20, titleY: 133,
  series: [
    { data: waterHdr2a, color: '#444', width: 1.2 },
    { data: waterHdr3, color: '#111', width: 1.3 }
  ]
});
const steam = drawPanel({
  name: 'steam', top: 214, bottom: 361, left: 70, right: 832, ticks: steamTicks,
  minor: 1, minorR: 0.5, minorRLen: 3, labelX: 49, hGrid: '#6a6a6a', vGrid: '#111', topTicks: true,
  title: 'Steam Rate (ton/hr)', titleX: 20, titleY: 285,
  series: [
    { data: steamHdr2a, color: '#000', width: 1.2 },
    { data: steamHdr3, color: '#ababab', width: 1.6 }
  ]
});
const valve = drawPanel({
  name: 'valve', top: 374, bottom: 521, left: 70, right: 832, ticks: valveTicks,
  minor: 10, labelX: 49, hGrid: '#6a6a6a', vGrid: '#111', topTicks: true,
  title: 'Valve Opening (%)', titleX: 22, titleY: 438,
  series: [
    { data: recoveryEff, color: '#8f8f8f', width: 1.7 },
    { data: valveHdr2a, color: '#444', width: 1, step: true },
    { data: valveHdr3, color: '#000', width: 1, step: true }
  ]
});
// recovery efficiency shares the 0-100 scale on the right side
valve.g.append('g').attr('transform', 'translate(832,0)')
  .call(d3.axisRight(valve.y).tickValues(d3.range(0, 101, 10)).tickSize(-6).tickFormat(''))
  .call(a => a.select('.domain').remove())
  .call(a => a.selectAll('line').attr('stroke', '#000').attr('stroke-width', 1.8));
valve.g.append('g').attr('transform', 'translate(832,0)')
  .call(d3.axisRight(valve.y).tickValues(valveTicks).tickSize(0).tickPadding(10).tickFormat(d3.format('d')))
  .call(a => a.select('.domain').remove())
  .call(a => a.selectAll('text').attr('class', 'tick-label').attr('font-family', null).attr('font-size', null));
valve.g.append('text').attr('class', 'axis-title')
  .attr('transform', 'translate(872,447) rotate(-90)')
  .attr('text-anchor', 'middle').attr('dominant-baseline', 'central')
  .text('Recovery Efficiency (%)');

const thermal = drawPanel({
  name: 'thermal', top: 540, bottom: 760, left: 72, right: 832, ticks: thermalTicks,
  minor: 1, labelX: 55, hGrid: '#111', vGrid: '#111', topTicks: false,
  title: 'Thermal Output (MW)', titleX: 14, titleY: 655,
  series: [
    { data: thermalHdr2a, color: '#6f6f6f', width: 1 },
    { data: thermalHdr3, color: '#2a2a2a', width: 1.2 },
    { data: thermalTotal, color: '#000', width: 1.5 }
  ]
});
// date labels under the bottom panel
const labelDates = d3.timeMonth.range(START, END, 3);
thermal.g.append('g').attr('transform', 'translate(0,760)')
  .call(d3.axisBottom(d3.scaleTime().domain([START, END]).range([70, 832]))
    .tickValues(labelDates).tickSize(0).tickPadding(12).tickFormat(d3.timeFormat('%y/%m/%d')))
  .call(a => a.select('.domain').remove())
  .call(a => a.selectAll('text').attr('class', 'tick-label').attr('font-family', null).attr('font-size', null)
    .style('letter-spacing', '1.2px'));
svg.append('text').attr('class', 'axis-title').attr('x', 450).attr('y', 804)
  .attr('text-anchor', 'middle').text('DATE');

// ---------- legends ----------
function legend(box, rows, cls) {
  svg.append('rect').attr('x', box.x).attr('y', box.y).attr('width', box.w).attr('height', box.h)
    .attr('fill', '#fff').attr('stroke', '#000').attr('stroke-width', 1);
  rows.forEach(r => {
    svg.append('line').attr('x1', r.x).attr('x2', r.x + r.len).attr('y1', r.y).attr('y2', r.y)
      .attr('stroke', r.color).attr('stroke-width', r.width || 1);
    svg.append('text').attr('class', cls).attr('x', r.x + r.len + 3).attr('y', r.y)
      .attr('dominant-baseline', 'central').text(r.label);
  });
}
legend({ x: 119, y: 59, w: 160, h: 34 }, [
  { x: 131, len: 22, y: 73, color: '#444', label: 'HDR-2a Water Rate' },
  { x: 131, len: 22, y: 87, color: '#111', label: 'HDR-3  Water Rate' }
], 'legend-spaced');
legend({ x: 119, y: 218, w: 169, h: 35 }, [
  { x: 133, len: 27, y: 232, color: '#000', label: 'HDR-2a Steam Rate' },
  { x: 133, len: 27, y: 246, color: '#aaa', width: 1.6, label: 'HDR-3  Steam Rate' }
], 'legend-spaced');
legend({ x: 119, y: 378, w: 335, h: 36 }, [
  { x: 137, len: 25, y: 390, color: '#444', label: 'HDR-2a Valve Opening' },
  { x: 298, len: 28, y: 390, color: '#999', width: 1.5, label: 'Recovery Efficiency' },
  { x: 137, len: 25, y: 403, color: '#000', label: 'HDR-3●Valve Opening' }
], 'legend-spaced');
legend({ x: 626, y: 546, w: 202, h: 50 }, [
  { x: 645, len: 28, y: 557, color: '#666', label: 'HDR-2a Thermal Output' },
  { x: 645, len: 28, y: 571, color: '#333', label: 'HDR-3 Thermal Output' },
  { x: 645, len: 28, y: 585, color: '#000', label: 'Total Thermal Output' }
], 'legend-plain');

// ---------- text notes with white backing ----------
function note(text, cx, cy, size, opts = {}) {
  const grp = svg.append('g');
  const t = grp.append('text').attr('class', 'note').attr('x', cx).attr('y', cy)
    .attr('text-anchor', 'middle').attr('dominant-baseline', 'central')
    .attr('font-size', size).attr('font-style', opts.italic ? 'italic' : 'normal').text(text);
  const b = t.node().getBBox();
  const padX = opts.padX != null ? opts.padX : 7;
  const h = opts.boxH || size * 0.8;
  grp.insert('rect', 'text').attr('x', b.x - padX).attr('y', cy - h / 2)
    .attr('width', b.width + 2 * padX).attr('height', h).attr('fill', '#fff');
}
function downArrow(cx, y0, y1) {
  const p = d3.path();
  p.moveTo(cx - 2.5, y0); p.lineTo(cx + 2.5, y0); p.lineTo(cx + 2.5, y1 - 9);
  p.lineTo(cx + 7, y1 - 9); p.lineTo(cx, y1); p.lineTo(cx - 7, y1 - 9);
  p.lineTo(cx - 2.5, y1 - 9); p.closePath();
  svg.append('path').attr('d', p.toString()).attr('fill', '#000');
}
function spanArrow(x0, x1, y, color) {
  svg.append('line').attr('x1', x0 + 14).attr('x2', x1 - 14).attr('y1', y).attr('y2', y)
    .attr('stroke', color).attr('stroke-width', 1.8);
  const p = d3.path();
  p.moveTo(x0, y); p.lineTo(x0 + 17, y - 9); p.lineTo(x0 + 17, y + 9); p.closePath();
  p.moveTo(x1, y); p.lineTo(x1 - 17, y - 9); p.lineTo(x1 - 17, y + 9); p.closePath();
  svg.append('path').attr('d', p.toString()).attr('fill', '#000');
}

// operating periods
svg.append('text').attr('class', 'note').attr('x', 297).attr('y', 27).attr('text-anchor', 'middle')
  .attr('font-size', 20).text('Lower circulation');
svg.append('text').attr('class', 'note').attr('x', 596).attr('y', 26).attr('text-anchor', 'middle')
  .attr('font-size', 20).text('Dual circulation');
svg.append('text').attr('class', 'note').attr('x', 748).attr('y', 26).attr('text-anchor', 'middle')
  .attr('font-size', 20).text('Generator test');
spanArrow(100, 488, 40, '#777');
spanArrow(518, 667, 41, '#000');
spanArrow(694, 803, 40, '#777');

// water panel notes
note('Hot water rate', 416, 82, 28, { padX: 9, boxH: 22 });
note('Change ratio', 633, 69, 21, { italic: true, padX: 4, boxH: 16 });
downArrow(639, 84, 104);
note('HDR-2', 456, 128, 22, { padX: 9, boxH: 18 });
note('HDR-2', 670, 148, 21, { padX: 5, boxH: 18 });
note('HDR-3', 623, 197, 21, { padX: 6, boxH: 18 });

// steam panel notes
note('Steam rate', 398, 241, 26, { padX: 14, boxH: 20 });
note('HDR-2', 258, 296, 21, { padX: 8, boxH: 18 });
note('HDR-3', 376, 301, 21, { padX: 10, boxH: 18 });
note('HDR-2', 478, 324, 21, { padX: 6, boxH: 18 });
note('HDR-2', 348, 360, 21, { padX: 6, boxH: 18 });

// recovery panel notes
note('Recovery', 535, 398, 28, { padX: 18, boxH: 22 });
note('Change ratio', 683, 394, 21, { italic: true, padX: 5, boxH: 18 });
downArrow(638, 411, 429);

// thermal panel notes
note('Thermal Output', 432, 564, 28, { padX: 10, boxH: 22 });
note('Total', 260, 596, 21, { padX: 14, boxH: 18 });
note('HDR-2', 261, 662, 21, { padX: 7, boxH: 22 });
note('HDR-3', 249, 732, 21, { padX: 8, boxH: 18 });
note('HDR-2', 346, 750, 21, { padX: 7, boxH: 20 });
note('Change ratio', 688, 643, 21, { italic: true, padX: 5, boxH: 18 });
downArrow(640, 657, 677);
note('Total', 812, 683, 21, { padX: 5, boxH: 18 });
note('HDR-2', 842, 722, 21, { padX: 5, boxH: 18 });
note('HDR-3', 636, 755, 21, { padX: 6, boxH: 18 });
</script>
</body>
</html>
